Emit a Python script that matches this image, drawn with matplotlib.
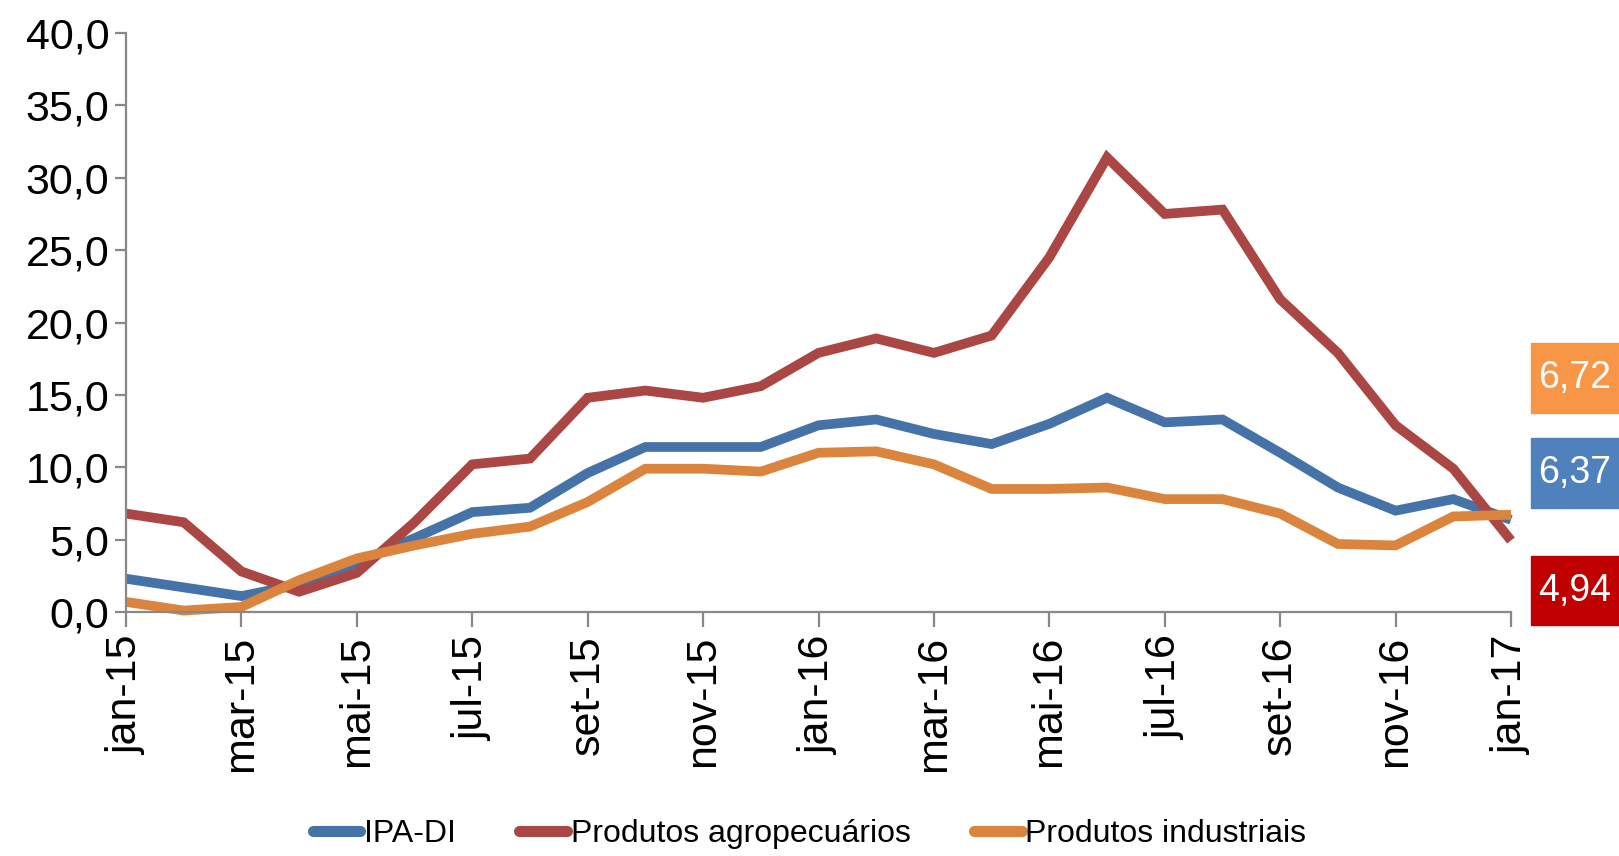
import matplotlib
matplotlib.use('Agg')
import matplotlib.pyplot as plt
from matplotlib.ticker import FuncFormatter, FixedLocator
from matplotlib.patches import Rectangle

plt.rcParams['font.family'] = ['Liberation Sans', 'DejaVu Sans']

months = ['jan-15', 'fev-15', 'mar-15', 'abr-15', 'mai-15', 'jun-15', 'jul-15', 'ago-15',
          'set-15', 'out-15', 'nov-15', 'dez-15', 'jan-16', 'fev-16', 'mar-16', 'abr-16',
          'mai-16', 'jun-16', 'jul-16', 'ago-16', 'set-16', 'out-16', 'nov-16', 'dez-16', 'jan-17']

ipa_di = [2.3, 1.7, 1.1, 1.9, 3.4, 5.1, 6.9, 7.2, 9.6, 11.4, 11.4, 11.4, 12.9,
          13.3, 12.3, 11.6, 13.0, 14.8, 13.1, 13.3, 11.0, 8.6, 7.0, 7.8, 6.37]
agro = [6.8, 6.2, 2.8, 1.4, 2.7, 6.2, 10.2, 10.6, 14.8, 15.3, 14.8, 15.6, 17.9,
        18.9, 17.9, 19.1, 24.5, 31.4, 27.5, 27.8, 21.6, 17.9, 12.9, 9.9, 4.94]
indus = [0.7, 0.1, 0.35, 2.2, 3.7, 4.6, 5.4, 5.9, 7.6, 9.9, 9.9, 9.7, 11.0,
         11.1, 10.2, 8.5, 8.5, 8.6, 7.8, 7.8, 6.8, 4.7, 4.6, 6.6, 6.72]

series_names = ['IPA-DI', 'Produtos agropecuários', 'Produtos industriais']
series_colors = ['#4572A7', '#AA4643', '#DB843D']
last_labels = ['6,72', '6,37', '4,94']
box_colors = ['#F79646', '#4F81BD', '#C00000']

W, H = 1619, 856
fig = plt.figure(figsize=(W / 100, H / 100), dpi=100)
ax = fig.add_axes([126 / W, 1 - 612 / H, (1511 - 126) / W, (612 - 33) / H])

x = list(range(len(months)))
for vals, name, col in zip([ipa_di, agro, indus], series_names, series_colors):
    ax.plot(x, vals, color=col, lw=7, label=name, solid_capstyle='butt',
            solid_joinstyle='miter', clip_on=False)

ax.set_xlim(0, len(months) - 1)
ax.set_ylim(0, 40)
ax.set_yticks([0, 5, 10, 15, 20, 25, 30, 35, 40])
ax.yaxis.set_major_formatter(FuncFormatter(lambda v, p: f'{v:.1f}'.replace('.', ',')))
ax.xaxis.set_major_locator(FixedLocator(x[::2]))
ax.set_xticklabels(months[::2], rotation=90)

for s in ['top', 'right']:
    ax.spines[s].set_visible(False)
for s in ['left', 'bottom']:
    ax.spines[s].set_color('#888888')
    ax.spines[s].set_linewidth(1.6)
ax.tick_params(axis='y', direction='out', length=8, width=1.6, color='#888888',
               labelsize=31, pad=4)
ax.tick_params(axis='x', direction='out', length=11, width=1.6, color='#888888',
               labelsize=31, pad=6)

leg = fig.legend(loc='center', bbox_to_anchor=(0.5, 1 - 834 / H), ncol=3, frameon=False,
                 fontsize=23, handlelength=1.5, handletextpad=0.1, columnspacing=2.0)
for h in leg.get_lines():
    h.set_linewidth(8)
    h.set_solid_capstyle('round')

# value boxes on the right
box_y = [(343, 413), (438, 508), (556, 625)]
for (y0, y1), txt, col in zip(box_y, last_labels, box_colors):
    fig.patches.append(Rectangle((1531 / W, 1 - y1 / H), (W - 1531) / W, (y1 - y0) / H,
                                 transform=fig.transFigure, color=col, zorder=5))
    fig.text((1531 + W) / 2 / W, 1 - (y0 + y1) / 2 / H, txt, color='white', fontsize=27,
             va='center', ha='center', zorder=6)

fig.savefig('out.png', dpi=100)
